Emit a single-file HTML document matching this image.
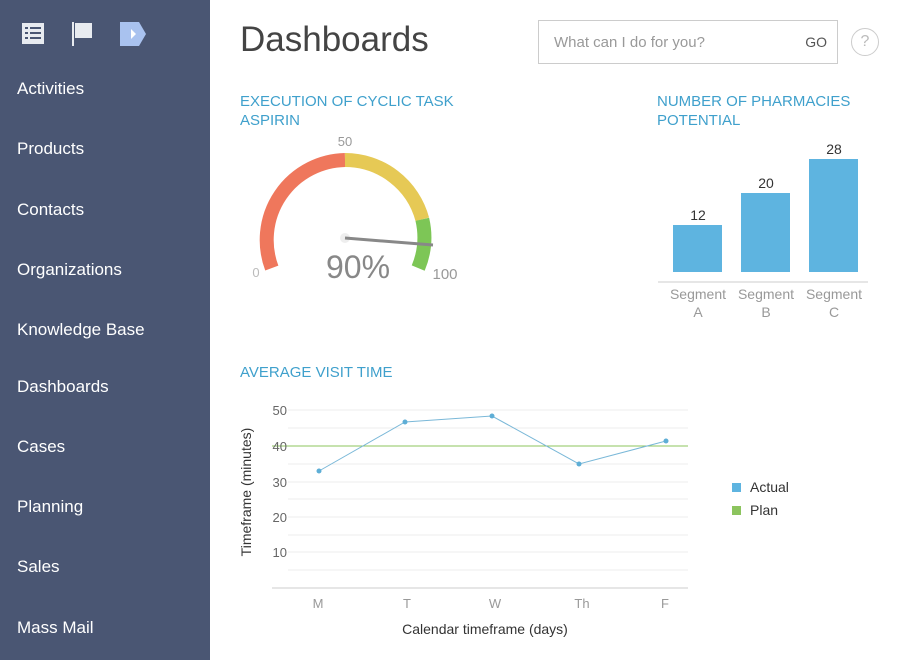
<!DOCTYPE html><html><head><style>
body{margin:0;width:900px;height:660px;background:#fff;font-family:"Liberation Sans",sans-serif;position:relative;overflow:hidden}
.sb{position:absolute;left:0;top:0;width:210px;height:660px;background:#4a5673}
.sb div{position:absolute;left:17px;color:#fff;font-size:17px}
.t{position:absolute;color:#3fa0cc;font-size:15px;line-height:19px}
</style></head><body>
<div class="sb">
<svg width="210" height="60" style="position:absolute;left:0;top:0">
<rect x="22" y="23" width="22" height="21" fill="#e8ebf0"/>
<g fill="#4a5673"><rect x="25" y="27" width="3" height="2"/><rect x="30" y="27" width="11" height="2"/><rect x="25" y="32" width="3" height="2"/><rect x="30" y="32" width="11" height="2"/><rect x="25" y="37" width="3" height="2"/><rect x="30" y="37" width="11" height="2"/></g>
<rect x="72" y="22" width="2" height="24" fill="#e8ebf0"/><rect x="75" y="23" width="17" height="15" fill="#e8ebf0"/>
<polygon points="120,22 139,22 146,34 139,46 120,46" fill="#a9c2ef"/><polygon points="131,29 136,34 131,39" fill="#fff"/>
</svg>
<div style="top:79px">Activities</div><div style="top:139px">Products</div><div style="top:200px">Contacts</div><div style="top:260px">Organizations</div><div style="top:320px">Knowledge Base</div><div style="top:377px">Dashboards</div><div style="top:437px">Cases</div><div style="top:497px">Planning</div><div style="top:557px">Sales</div><div style="top:618px">Mass Mail</div>
</div>
<div style="position:absolute;left:240px;top:20px;font-size:35px;color:#444">Dashboards</div>
<div style="position:absolute;left:538px;top:20px;width:298px;height:42px;border:1px solid #ccc"><span style="position:absolute;left:15px;top:13px;color:#999;font-size:15px">What can I do for you?</span><span style="position:absolute;right:10px;top:13px;color:#555;font-size:14px">GO</span></div>
<div style="position:absolute;left:851px;top:28px;width:26px;height:26px;border:1px solid #ccc;border-radius:50%;color:#bbb;text-align:center;line-height:26px;font-size:16px">?</div>
<div class="t" style="left:240px;top:92px">EXECUTION OF CYCLIC TASK<br>ASPIRIN</div>
<div class="t" style="left:657px;top:92px">NUMBER OF PHARMACIES<br>POTENTIAL</div>
<div class="t" style="left:240px;top:363px">AVERAGE VISIT TIME</div>
<svg width="900" height="660" style="position:absolute;left:0;top:0" font-family="Liberation Sans,sans-serif">
<g fill="none" stroke-width="14">
<path d="M271.8,268.1 A80,80 0 0 1 345,160" stroke="#ef775c"/>
<path d="M345,160 A80,80 0 0 1 422.3,219.3" stroke="#e6c955"/>
<path d="M422.3,219.3 A80,80 0 0 1 418.2,268.1" stroke="#7dc656"/>
</g>
<circle cx="345" cy="238" r="5" fill="#eee"/>
<line x1="345" y1="238" x2="433" y2="245" stroke="#888" stroke-width="3"/>
<text x="345" y="146" font-size="13" fill="#999" text-anchor="middle">50</text>
<text x="256" y="277" font-size="13" fill="#bbb" text-anchor="middle">0</text>
<text x="445" y="279" font-size="15" fill="#999" text-anchor="middle">100</text>
<text x="358" y="278" font-size="32" fill="#888" text-anchor="middle">90%</text>
<g fill="#5eb4e0"><rect x="673" y="225" width="49" height="47"/><rect x="741" y="193" width="49" height="79"/><rect x="809" y="159" width="49" height="113"/></g>
<line x1="658" y1="282" x2="868" y2="282" stroke="#ccc"/>
<g font-size="14" fill="#333" text-anchor="middle"><text x="698" y="220">12</text><text x="766" y="188">20</text><text x="834" y="154">28</text></g>
<g font-size="14" fill="#999" text-anchor="middle"><text x="698" y="299">Segment</text><text x="698" y="317">A</text><text x="766" y="299">Segment</text><text x="766" y="317">B</text><text x="834" y="299">Segment</text><text x="834" y="317">C</text></g>
<g stroke="#eee"><line x1="288" y1="410" x2="688" y2="410"/><line x1="288" y1="428" x2="688" y2="428"/><line x1="288" y1="464" x2="688" y2="464"/><line x1="288" y1="482" x2="688" y2="482"/><line x1="288" y1="499" x2="688" y2="499"/><line x1="288" y1="517" x2="688" y2="517"/><line x1="288" y1="535" x2="688" y2="535"/><line x1="288" y1="552" x2="688" y2="552"/><line x1="288" y1="570" x2="688" y2="570"/></g>
<line x1="272" y1="588" x2="688" y2="588" stroke="#ccc"/>
<line x1="272" y1="446" x2="688" y2="446" stroke="#8cc45e"/>
<polyline points="319,471 405,422 492,416 579,464 666,441" fill="none" stroke="#7ab8d8" stroke-width="1"/>
<g fill="#5eaed6"><circle cx="319" cy="471" r="2.5"/><circle cx="405" cy="422" r="2.5"/><circle cx="492" cy="416" r="2.5"/><circle cx="579" cy="464" r="2.5"/><circle cx="666" cy="441" r="2.5"/></g>
<g font-size="13" fill="#666" text-anchor="end"><text x="287" y="415">50</text><text x="287" y="451">40</text><text x="287" y="487">30</text><text x="287" y="522">20</text><text x="287" y="557">10</text></g>
<g font-size="13" fill="#999" text-anchor="middle"><text x="318" y="608">M</text><text x="407" y="608">T</text><text x="495" y="608">W</text><text x="582" y="608">Th</text><text x="665" y="608">F</text></g>
<text x="485" y="634" font-size="14" fill="#333" text-anchor="middle">Calendar timeframe (days)</text>
<text transform="translate(251,492) rotate(-90)" font-size="14" fill="#333" text-anchor="middle">Timeframe (minutes)</text>
<rect x="732" y="483" width="9" height="9" fill="#5eb4e0"/><text x="750" y="492" font-size="14" fill="#333">Actual</text>
<rect x="732" y="506" width="9" height="9" fill="#8cc45e"/><text x="750" y="515" font-size="14" fill="#333">Plan</text>
</svg>
</body></html>
